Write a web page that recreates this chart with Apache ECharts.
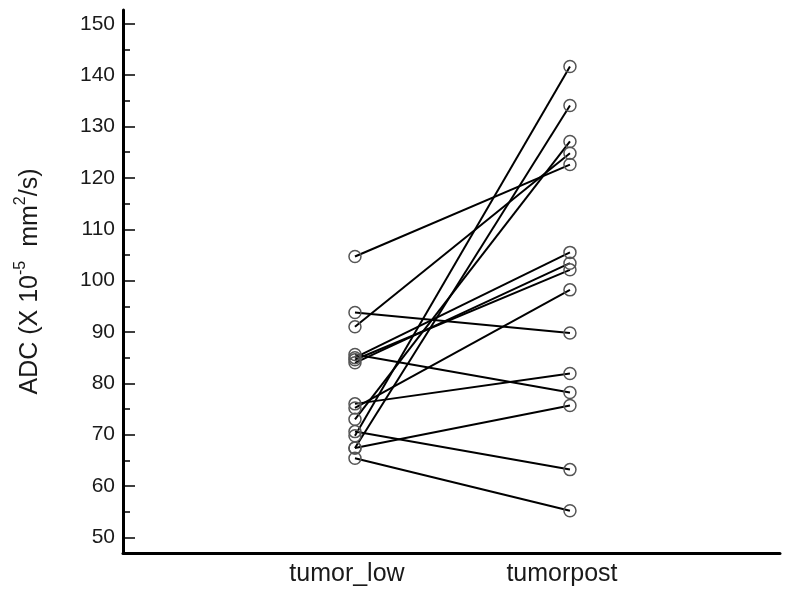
<!DOCTYPE html>
<html>
<head>
<meta charset="utf-8">
<script src="https://cdn.jsdelivr.net/npm/echarts@6/dist/echarts.min.js"></script>
<style>
  html, body { margin: 0; padding: 0; background: #fff; }
  #main { width: 793px; height: 591px; }
</style>
</head>
<body>
<div id="main"></div>
<script>
// categories on the x axis
var categories = ['tumor_low', 'tumorpost'];
// paired ADC values, one entry per subject
var tumorLow  = [104.7, 93.8, 91.0, 85.6, 85.0, 84.6, 84.0, 76.0, 75.2, 73.0, 70.6, 69.8, 67.4, 67.4, 65.4];
var tumorPost = [122.6, 89.8, 124.8, 78.2, 105.5, 102.1, 103.4, 81.9, 98.2, 127.1, 63.2, 141.7, 134.1, 75.7, 55.2];
// tick labels
var yTicks = [50, 60, 70, 80, 90, 100, 110, 120, 130, 140, 150];
var yMinorTicks = [55, 65, 75, 85, 95, 105, 115, 125, 135, 145];

var chart = echarts.init(document.getElementById('main'));

var font = 'Liberation Sans, Arial, sans-serif';

// one line per subject
var series = [];
for (var i = 0; i < tumorLow.length; i++) {
  series.push({
    type: 'line',
    data: [[1, tumorLow[i]], [2, tumorPost[i]]],
    symbol: 'circle',
    symbolSize: 12,
    lineStyle: { color: '#000', width: 2 },
    itemStyle: { color: 'rgba(0,0,0,0)', borderColor: '#555', borderWidth: 1.5 },
    emphasis: { disabled: true },
    silent: true
  });
}

var option = {
  animation: false,
  grid: { left: 123, right: 13, top: 10, bottom: 38 },
  xAxis: {
    type: 'value',
    min: -0.079,
    max: 2.977,
    splitLine: { show: false },
    axisLine: { onZero: false, lineStyle: { color: '#000', width: 3 } },
    axisTick: { show: false },
    axisLabel: {
      customValues: [1, 2],
      formatter: function (v) { return categories[Math.round(v) - 1]; },
      color: '#1a1a1a',
      fontSize: 25,
      fontFamily: font,
      margin: 9,
      padding: [0, 16, 0, 0]
    }
  },
  yAxis: [{
    type: 'value',
    min: 46.96,
    max: 152.7,
    splitLine: { show: false },
    axisLine: { show: true, onZero: false, lineStyle: { color: '#000', width: 3 } },
    axisTick: { show: true, inside: true, length: 12, customValues: yTicks, lineStyle: { color: '#000', width: 1.5 } },
    axisLabel: { customValues: yTicks, color: '#1a1a1a', fontSize: 21, fontFamily: font, margin: 8 },
    name: '{n|ADC (X 10}{s|-5}{n|  mm}{s|2}{n|/s)}',
    nameLocation: 'middle',
    nameGap: 80,
    nameMoveOverlap: false,
    nameTextStyle: {
      rich: {
        n: { fontSize: 25, fontFamily: font, color: '#1a1a1a', lineHeight: 30, verticalAlign: 'bottom' },
        s: { fontSize: 16, fontFamily: font, color: '#1a1a1a', lineHeight: 30, verticalAlign: 'top' }
      }
    }
  }, {
    // minor ticks
    type: 'value',
    position: 'left',
    min: 46.96,
    max: 152.7,
    splitLine: { show: false },
    axisLine: { show: false, onZero: false },
    axisTick: { show: true, inside: true, length: 7, customValues: yMinorTicks, lineStyle: { color: '#000', width: 1.5 } },
    axisLabel: { show: false }
  }],
  series: series
};

chart.setOption(option);
</script>
</body>
</html>
